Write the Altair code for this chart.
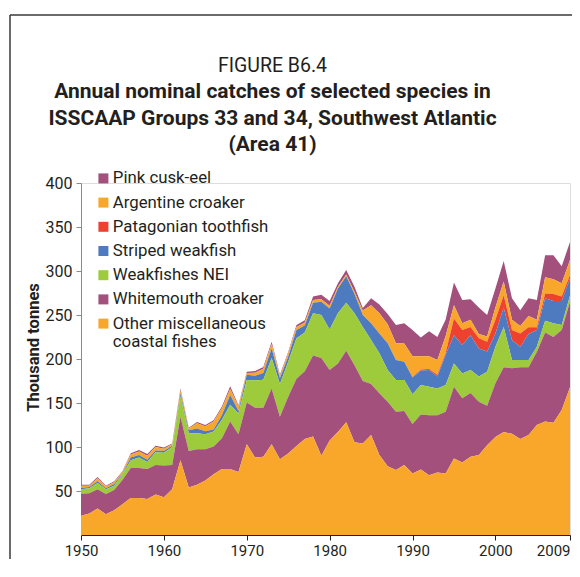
import altair as alt
import pandas as pd

years = list(range(1950, 2010))

series_names = [
    "Pink cusk-eel",
    "Argentine croaker",
    "Patagonian toothfish",
    "Striped weakfish",
    "Weakfishes NEI",
    "Whitemouth croaker",
    "Other miscellaneous coastal fishes",
]
series_colors = ["#A3507D", "#F9A72B", "#EF4130", "#4E7AC0", "#9DCB3C", "#A3507D", "#F9A72B"]
# stacking rank (0 = bottom)
stack_rank = [6, 5, 4, 3, 2, 1, 0]

# thousand tonnes, 1950..2009
other_misc = [22, 24.5, 30, 23.5, 28, 35, 42, 42, 41, 46,
              43, 52, 85, 54, 57, 62, 69, 75, 75, 71.5,
              103, 88, 89, 103, 86, 92.5, 101, 109, 112, 90,
              107.5, 117, 128, 105.5, 104, 113.5, 91, 78, 74, 79.5,
              70, 74.5, 68, 71, 70, 87, 82.5, 89, 91, 102,
              111.5, 117, 115, 109, 113.5, 125, 129, 127.5, 142, 168]
whitemouth = [25, 23, 22, 23, 23, 27.5, 34, 34, 34, 33.5,
              36, 27.5, 49.5, 41.5, 40.5, 35.5, 31.5, 35, 54, 43,
              47.5, 56.5, 55.5, 63.5, 48.5, 64.5, 76.5, 77, 92, 111,
              80, 78, 81.5, 87.5, 71, 58, 70, 73.5, 66, 61.5,
              56, 62.5, 68, 65, 70, 81.5, 73, 72.5, 60.5, 45,
              61, 73.5, 74.5, 81.5, 77, 83, 101, 97.5, 91, 97]
weakfishes_nei = [5, 5.5, 7, 5.5, 5, 6.5, 9, 12, 8, 14.5,
                  14.5, 20.5, 23.5, 20, 18, 17, 17, 21, 19, 23.5,
                  25.5, 31, 32, 34.5, 37, 40, 46, 44, 48, 49,
                  46, 57, 54.5, 59, 61.5, 50, 45.5, 36, 36, 35,
                  34, 33.5, 32.5, 30.5, 30.5, 26.5, 28, 26, 28.5, 38.5,
                  41.5, 46, 9.5, 8.5, 8.5, 6, 13.5, 15.5, 5.5, 7]
striped_weakfish = [1.5, 1.5, 2, 1, 2, 1, 3, 3, 2.5, 2,
                    2, 1.5, 3, 3.5, 5.5, 3.5, 2.5, 5, 11, 3,
                    6, 5.5, 7.5, 11, 6.5, 5.5, 9.5, 8, 12, 15,
                    24, 28, 30, 22, 13.5, 19, 22.5, 30.5, 23, 21,
                    19, 16.5, 19, 13.5, 34.5, 32, 32.5, 39.5, 32, 23,
                    15, 22, 22.5, 15, 29.5, 19, 25.5, 25.5, 27.5, 19.5]
toothfish = [0, 0, 0, 0, 0, 0, 0, 0, 0, 0,
             0, 0, 0, 0, 0, 0, 0, 0, 0, 0,
             0, 0, 0, 0, 0, 0, 0, 0, 0, 0,
             0, 0, 0, 0, 0, 0, 0, 0, 0, 0,
             0.5, 1, 1, 2, 2, 19, 17, 9.5, 11.5, 11,
             15.5, 14, 11.5, 15, 7.5, 3, 5.5, 8, 5, 4]
argentine_croaker = [2.5, 1.5, 3.5, 2, 2, 1.5, 3.5, 4, 4.5, 4,
                     2.5, 1.5, 3.5, 2, 6, 5.5, 9, 8, 7, 5,
                     2, 3.5, 5, 5, 2.5, 4, 3.5, 3.5, 3, 3,
                     3, 2, 2, 2, 5, 20.5, 23, 21.5, 19, 20.5,
                     23.5, 15, 14.5, 17, 19, 15, 7.5, 8, 5, 6,
                     14, 15.5, 11.5, 8.5, 13, 8.5, 18.5, 16.5, 15, 17]
pink_cusk_eel = [1, 1, 1.5, 1, 1, 1, 1.5, 1.5, 2, 1.5,
                 1.5, 1, 2, 1, 1.5, 1.5, 1.5, 2, 3, 1.5,
                 1.5, 2, 2, 2.5, 1.5, 1.5, 2, 2.5, 4, 5,
                 5.5, 4, 5, 6, 3, 8, 10, 11.5, 20.5, 23,
                 30, 21.5, 28.5, 26, 19, 26, 26.5, 23.5, 30, 24.5,
                 21.5, 23.5, 24.5, 18, 20, 22.5, 25, 27.5, 19.5, 20.5]

series_values = [pink_cusk_eel, argentine_croaker, toothfish, striped_weakfish,
                 weakfishes_nei, whitemouth, other_misc]

x_tick_values = [1950, 1960, 1970, 1980, 1990, 2000, 2009]
y_tick_values = [50, 100, 150, 200, 250, 300, 350, 400]

rows = []
for name, rank, vals in zip(series_names, stack_rank, series_values):
    for yr, v in zip(years, vals):
        rows.append({"year": yr, "species": name, "rank": rank, "value": v})
df = pd.DataFrame(rows)

FONT = "Roboto"
INK = "#231F20"

areas = alt.Chart(df).mark_area(interpolate="linear").encode(
    x=alt.X("year:Q",
            scale=alt.Scale(domain=[1950, 2009], nice=False, zero=False),
            axis=alt.Axis(values=x_tick_values, format="d", title=None,
                          labelFontSize=15, labelFont=FONT, labelColor=INK,
                          labelPadding=3, labelFlush=False, labelOverlap=False,
                          labelAlign={"condition": {"test": "datum.value == 2009", "value": "right"},
                                      "value": "center"},
                          tickSize=5, tickColor=INK, domainColor=INK, grid=False)),
    y=alt.Y("value:Q", stack="zero",
            scale=alt.Scale(domain=[0, 400], nice=False),
            axis=alt.Axis(values=y_tick_values, title="Thousand tonnes",
                          titleFont=FONT, titleFontSize=16.5, titleFontWeight="bold",
                          titleColor=INK, titleX=-48, titleY=164, titleAngle=-90,
                          titleAlign="center", titleBaseline="middle",
                          labelFontSize=16, labelFont=FONT, labelColor=INK,
                          labelPadding=4, tickSize=5, tickColor="#8A8A8A",
                          domainColor="#8A8A8A", grid=False)),
    color=alt.Color("species:N",
                    scale=alt.Scale(domain=series_names, range=series_colors),
                    legend=alt.Legend(title=None, orient="none", legendX=14, legendY=-13,
                                      symbolType="square", symbolSize=100,
                                      symbolStrokeWidth=0, symbolOpacity=1,
                                      labelFontSize=16.8, labelFont=FONT, labelColor=INK,
                                      rowPadding=6.2, labelOffset=1, padding=0, labelLimit=400,
                                      labelExpr="datum.label == 'Other miscellaneous coastal fishes' ? ['Other miscellaneous', 'coastal fishes'] : datum.label")),
    order=alt.Order("rank:Q", sort="ascending"),
)

frame_df = pd.DataFrame({"k": [0]})
frame_left = alt.Chart(frame_df).mark_rule(color="#3A3A3A", strokeWidth=1.5).encode(
    x=alt.value(-71), y=alt.value(-168), y2=alt.value(400))
frame_top = alt.Chart(frame_df).mark_rule(color="#3A3A3A", strokeWidth=1.5).encode(
    x=alt.value(-71), x2=alt.value(520), y=alt.value(-168))

chart = alt.layer(areas, frame_left, frame_top).properties(
    width=489, height=352,
    padding={"left": 73, "top": 175, "right": 2, "bottom": 24},
    autosize="none",
    title=alt.TitleParams(
        text="FIGURE B6.4",
        subtitle=["Annual nominal catches of selected species in",
                  "ISSCAAP Groups 33 and 34, Southwest Atlantic",
                  "(Area 41)"],
        font=FONT, fontSize=19.5, fontWeight="normal", color=INK,
        subtitleFont=FONT, subtitleFontSize=21, subtitleFontWeight="bold",
        subtitleColor=INK, subtitleLineHeight=26.5, subtitlePadding=5,
        anchor="middle", frame="group", dx=-53, offset=-142,
    ),
).configure_view(stroke=None).configure(background="white")

chart.save("out.html", embed_options={"renderer": "svg", "actions": False})
